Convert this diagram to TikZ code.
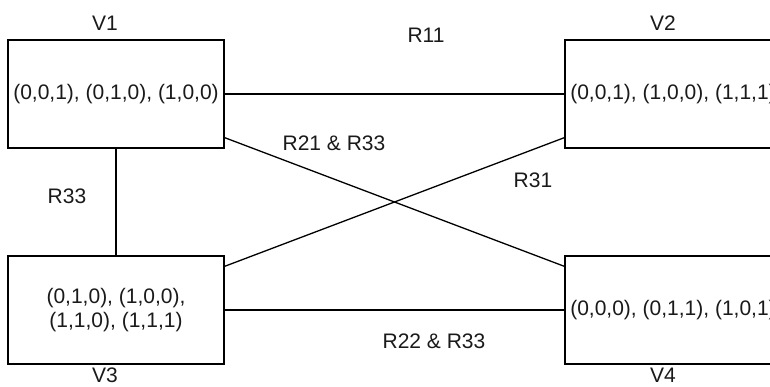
\documentclass[tikz,border=0pt]{standalone}
\usepackage{fontspec}
\setmainfont{Liberation Sans}
\usepackage{tikz}
\usetikzlibrary{positioning}
\definecolor{setInk}{HTML}{1A1A1A}
\tikzset{
  setbox/.style={rectangle,draw=black,line width=1.3pt,fill=white,
    minimum width=216pt,minimum height=108pt,inner sep=0pt,align=center,
    text=setInk,font=\fontsize{21}{23.5}\selectfont},
  vlabel/.style={inner sep=0pt,text=setInk,font=\fontsize{21}{24}\selectfont},
  rlabel/.style={inner sep=0pt,text=setInk,font=\fontsize{21}{24}\selectfont},
  link/.style={draw=black,line width=1.3pt}
}

\begin{document}
\begin{tikzpicture}[x=1pt,y=1pt]
  \fill[white] (0,0) rectangle (770,387);
  \path[use as bounding box,clip] (0,0) rectangle (770,387);
  % vertex sets
  \node[setbox] (v1) at (116,293) {(0,0,1), (0,1,0), (1,0,0)};
  \node[setbox] (v2) at (673,293) {(0,0,1), (1,0,0), (1,1,1)};
  \node[setbox] (v3) at (116,77) {(0,1,0), (1,0,0),\\(1,1,0), (1,1,1)};
  \node[setbox] (v4) at (673,77) {(0,0,0), (0,1,1), (1,0,1)};
  \node[vlabel, above=9pt of v1.north, xshift=-11pt] (n1) {V1};
  \node[vlabel, above=9pt of v2.north, xshift=-10pt] (n2) {V2};
  \node[vlabel, below=3pt of v3.south, xshift=-11pt] (n3) {V3};
  \node[vlabel, below=3pt of v4.south, xshift=-10pt] (n4) {V4};
  % relations
  \draw[link] (v1.east) -- (v2.west);
  \draw[link] (v1.south) -- (v3.north);
  \draw[link] (v3.east) -- (v4.west);
  \draw[link] ([yshift=11pt]v1.south east) -- ([yshift=-11pt]v4.north west);
  \draw[link] ([yshift=-11pt]v3.north east) -- ([yshift=11pt]v2.south west);
  \node[rlabel] (r11) at (426,351.5) {R11};
  \node[rlabel] (r33) at (67,191) {R33};
  \node[rlabel] (r2133) at (334,244) {R21 \& R33};
  \node[rlabel] (r31) at (533,207) {R31};
  \node[rlabel] (r2233) at (434,46) {R22 \& R33};
\end{tikzpicture}
\end{document}
